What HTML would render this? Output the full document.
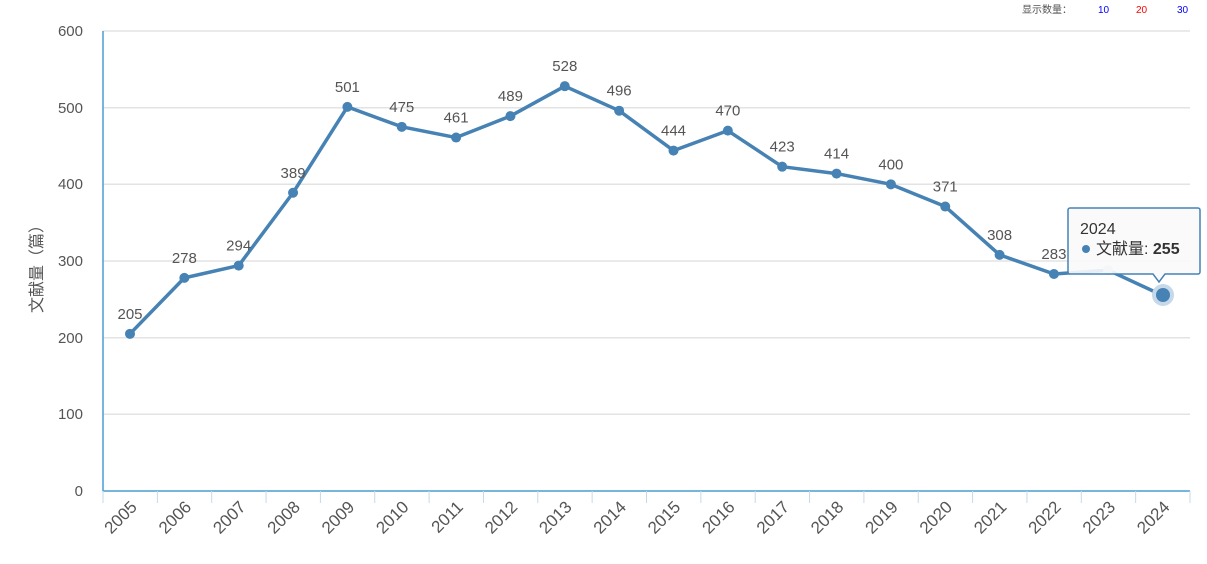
<!DOCTYPE html>
<html><head><meta charset="utf-8"><style>
html,body{margin:0;padding:0;background:#fff;}
svg{display:block;font-family:"Liberation Sans","Noto Sans CJK SC",sans-serif;}
</style></head><body>
<svg width="1207" height="564" viewBox="0 0 1207 564" xmlns="http://www.w3.org/2000/svg">
<text x="1022" y="13" font-size="10" fill="#555">显示数量：</text>
<text x="1098" y="13" font-size="10" fill="#00f">10</text>
<text x="1136" y="13" font-size="10" fill="#f00">20</text>
<text x="1177" y="13" font-size="10" fill="#00f">30</text>
<g stroke="#e3e3e3" stroke-width="1.5">
<line x1="103" y1="31" x2="1190" y2="31"/>
<line x1="103" y1="107.7" x2="1190" y2="107.7"/>
<line x1="103" y1="184.3" x2="1190" y2="184.3"/>
<line x1="103" y1="261" x2="1190" y2="261"/>
<line x1="103" y1="337.7" x2="1190" y2="337.7"/>
<line x1="103" y1="414.3" x2="1190" y2="414.3"/>
</g>
<line x1="103" y1="31" x2="103" y2="491" stroke="#4a9ed0" stroke-width="1.5"/>
<line x1="103" y1="491" x2="1190" y2="491" stroke="#4a9ed0" stroke-width="1.5"/>
<g font-size="15" fill="#555" text-anchor="end">
<text x="83" y="36">600</text><text x="83" y="113">500</text><text x="83" y="189">400</text>
<text x="83" y="266">300</text><text x="83" y="343">200</text><text x="83" y="419">100</text><text x="83" y="496">0</text>
</g>
<text transform="translate(42,265) rotate(-90)" font-size="16" fill="#555" text-anchor="middle">文献量（篇）</text>
<g id="ticks" stroke="#c5d9ea" stroke-width="1"></g>
<g id="xl" font-size="17" fill="#555" text-anchor="end"></g>
<polyline id="ln" fill="none" stroke="#4682b4" stroke-width="3.5" stroke-linejoin="round"/>
<g id="pts" fill="#4682b4"></g>
<g id="lb" font-size="15" fill="#555" text-anchor="middle"></g>
<circle cx="1108" cy="270" r="5" fill="#c9d8e6"/>
<circle cx="1163" cy="295" r="11" fill="#c5d9ea"/>
<circle cx="1163" cy="295" r="7" fill="#4682b4"/>
<path d="M1070 208 h128 a2 2 0 0 1 2 2 v62 a2 2 0 0 1 -2 2 h-33 l-6 8 l-6 -8 h-83 a2 2 0 0 1 -2 -2 v-62 a2 2 0 0 1 2 -2z" fill="rgba(250,250,250,0.9)" stroke="#4682b4" stroke-width="1.5"/>
<text x="1080" y="234" font-size="16" fill="#333">2024</text>
<circle cx="1086" cy="249" r="4" fill="#4682b4"/>
<text x="1096" y="254" font-size="16" fill="#333">文献量: <tspan font-weight="bold">255</tspan></text>
<script>
var v=[205,278,294,389,501,475,461,489,528,496,444,470,423,414,400,371,308,283,288,255];
var ns="http://www.w3.org/2000/svg",w=54.35,pts=[];
function el(t,a,p,tx){var e=document.createElementNS(ns,t);for(var k in a)e.setAttribute(k,a[k]);if(tx)e.textContent=tx;document.getElementById(p).appendChild(e);}
for(var i=0;i<=20;i++)el('line',{x1:103+i*w,y1:491,x2:103+i*w,y2:503},'ticks');
for(var i=0;i<20;i++){var x=130+i*w,y=491-v[i]*0.7667;pts.push(x+','+y);
el('text',{transform:'translate('+(x+8)+',508) rotate(-45)'},'xl',String(2005+i));
if(i<18){el('circle',{cx:x,cy:y,r:5},'pts');el('text',{x:x,y:y-15},'lb',String(v[i]));}}
document.getElementById('ln').setAttribute('points',pts.join(' '));
</script>
</svg>
</body></html>
